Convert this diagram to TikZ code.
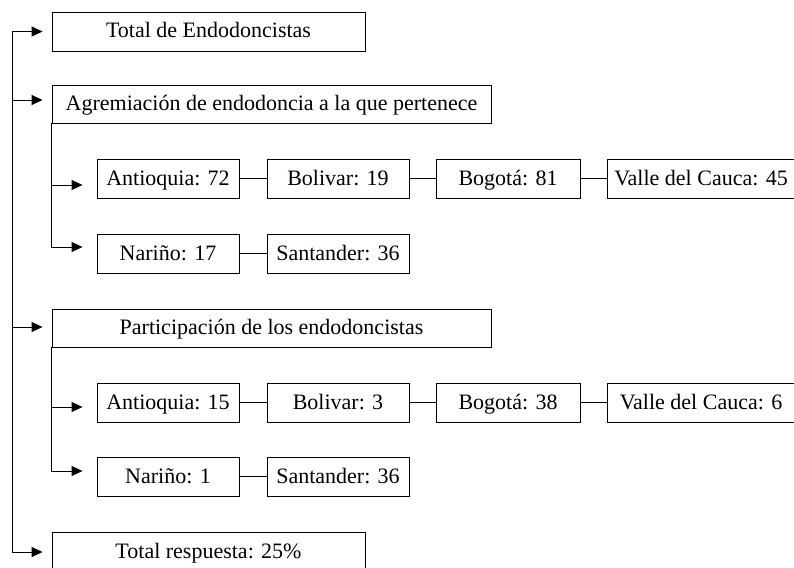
\documentclass[tikz,border=0pt]{standalone}
\usepackage{fontspec}
\setmainfont{Liberation Serif}
\usetikzlibrary{arrows.meta}
\begin{document}
\begin{tikzpicture}[x=1pt,y=-1pt,
  box/.style={draw, line width=0.9pt, inner sep=0pt, minimum height=39pt, text height=17pt, text depth=4pt, font=\fontsize{22}{26}\selectfont},
  arr/.style={line width=0.9pt, -{Triangle[length=11pt,width=10pt]}},
  link/.style={line width=0.9pt}]
\useasboundingbox (0,0) rectangle (794,567);
\clip (0,0) rectangle (794,567);
% main boxes
\node[box, minimum width=313pt] (tot) at (208.5,31.5) {Total de Endodoncistas};
\node[box, minimum width=439pt, minimum height=38pt] (agr) at (271.5,104) {Agremiación de endodoncia a la que pertenece};
\node[box, minimum width=439pt, minimum height=38pt] (par) at (271.5,328) {Participación de los endodoncistas};
\node[box, minimum width=313pt, minimum height=40pt] (tr) at (208.5,552) {Total respuesta: 25\%};
% first group
\node[box, minimum width=142pt] (a1) at (168,178.5) {Antioquia: 72};
\node[box, minimum width=142pt] (b1) at (338,178.5) {Bolivar: 19};
\node[box, minimum width=144pt] (g1) at (508,178.5) {Bogotá: 81};
\node[box, minimum width=188pt] (v1) at (701,178.5) {Valle del Cauca: 45};
\node[box, minimum width=142pt] (n1) at (168,253.5) {Nariño: 17};
\node[box, minimum width=142pt] (s1) at (338,253.5) {Santander: 36};
% second group
\node[box, minimum width=142pt] (a2) at (168,402.5) {Antioquia: 15};
\node[box, minimum width=142pt] (b2) at (338,402.5) {Bolivar: 3};
\node[box, minimum width=144pt] (g2) at (508,402.5) {Bogotá: 38};
\node[box, minimum width=188pt] (v2) at (701,402.5) {Valle del Cauca: 6};
\node[box, minimum width=142pt] (n2) at (168,476.5) {Nariño: 1};
\node[box, minimum width=142pt] (s2) at (338,476.5) {Santander: 36};
% entry points
\coordinate (spine) at (12,0);
\coordinate (agrin) at ([yshift=4pt]agr.west);
\coordinate (parin) at ([yshift=1pt]par.west);
\coordinate (a1in) at ([yshift=-6.5pt]a1.west);
\coordinate (n1in) at ([yshift=6.5pt]n1.west);
\coordinate (a2in) at ([yshift=-4.5pt]a2.west);
\coordinate (n2in) at ([yshift=5.5pt]n2.west);
% spine
\draw[link] (spine |- tot.west) -- (spine |- tr.west);
\draw[arr, shorten >=9pt] (spine |- tot.west) -- (tot.west);
\draw[arr, shorten >=9pt] (spine |- agrin) -- (agrin);
\draw[arr, shorten >=9pt] (spine |- parin) -- (parin);
\draw[arr, shorten >=9pt] (spine |- tr.west) -- (tr.west);
% sub branches
\draw[arr, shorten >=14pt] (agr.south west) |- (a1in);
\draw[arr, shorten >=14pt] (agr.south west) |- (n1in);
\draw[arr, shorten >=14pt] (par.south west) |- (a2in);
\draw[arr, shorten >=14pt] (par.south west) |- (n2in);
% links
\draw[link] (a1) -- (b1);
\draw[link] (b1) -- (g1);
\draw[link] (g1) -- (v1);
\draw[link] (n1) -- (s1);
\draw[link] (a2) -- (b2);
\draw[link] (b2) -- (g2);
\draw[link] (g2) -- (v2);
\draw[link] (n2) -- (s2);
\end{tikzpicture}
\end{document}
